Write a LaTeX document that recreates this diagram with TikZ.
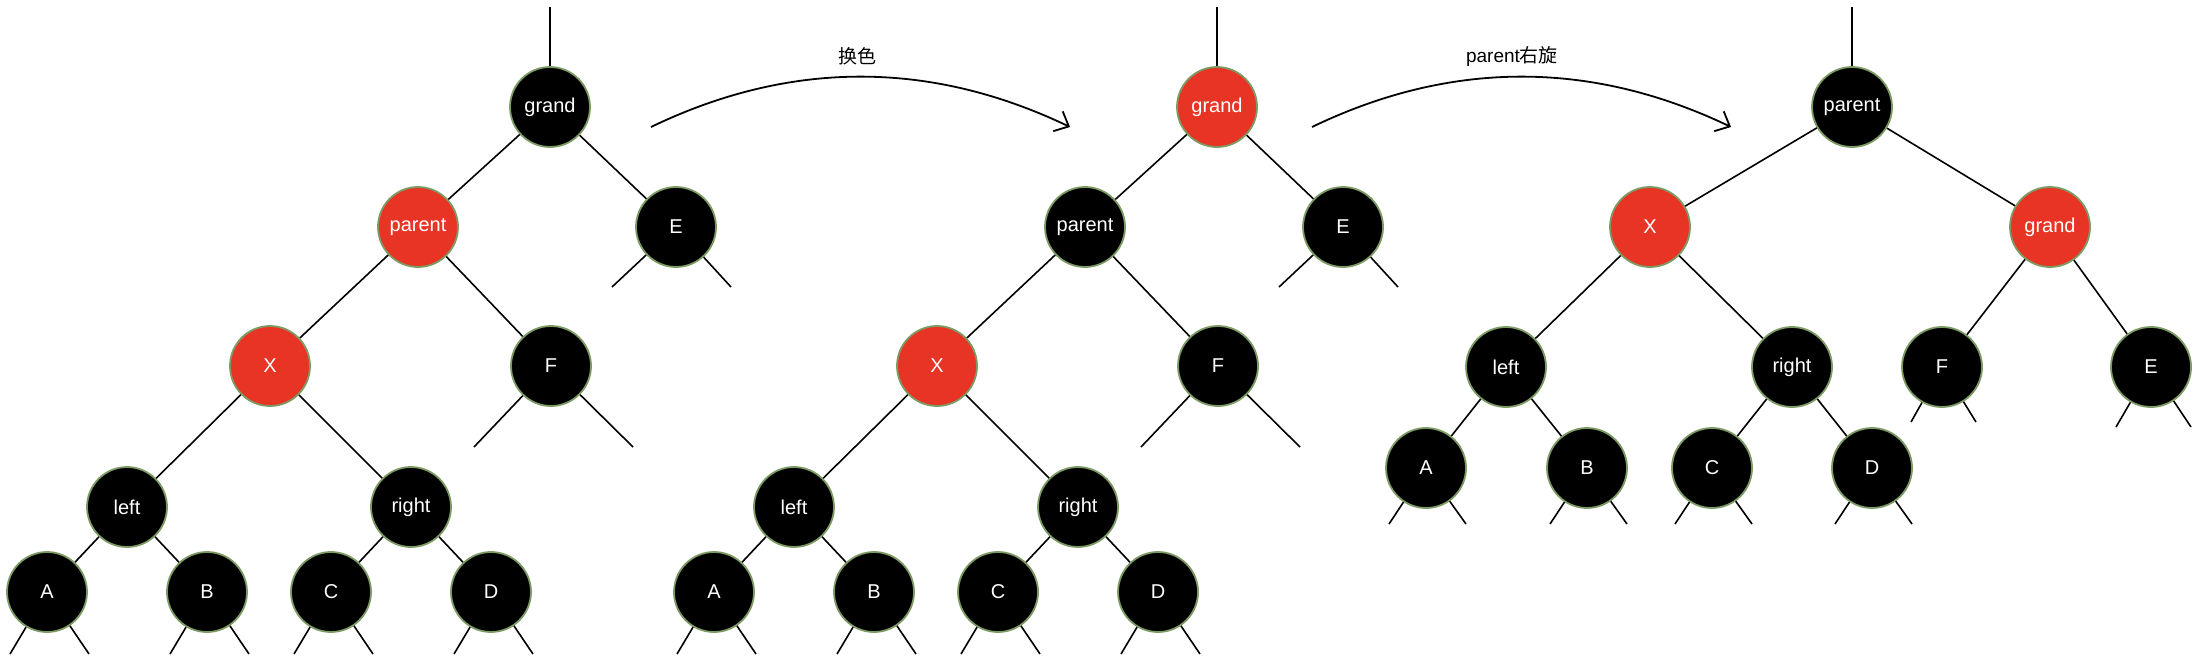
\documentclass[tikz,border=0pt]{standalone}
\usepackage{fontspec}
\setmainfont{Liberation Sans}
\newfontfamily\cjk{Noto Sans CJK SC}
\usetikzlibrary{arrows.meta}
\definecolor{rbred}{RGB}{232,52,36}
\definecolor{rbedge}{RGB}{125,155,100}
\begin{document}
\begin{tikzpicture}[x=1pt,y=-1pt,
  rbnode/.style={circle,minimum size=80pt,inner sep=0pt,draw=rbedge,line width=1.8pt,
    text=white,font=\fontsize{20}{24}\selectfont},
  blknode/.style={rbnode,fill=black},
  rednode/.style={rbnode,fill=rbred},
  treeline/.style={line width=1.6pt,draw=black},
  curvearrow/.style={line width=1.8pt,-{Straight Barb[length=12pt,width=22pt,line width=1.8pt]}},
  lbl/.style={font=\fontsize{19}{22}\selectfont,text=black}]
\useasboundingbox (0,0) rectangle (2200,656);

% ---------- Tree 1 ----------
\coordinate (top1) at (550,7);
\node[blknode] (grand1) at (550,107) {grand};
\node[rednode] (parent1) at (418,227) {parent};
\node[blknode] (E1) at (676,227) {E};
\node[rednode] (X1) at (270,366) {X};
\node[blknode] (F1) at (551,366) {F};
\node[blknode] (left1) at (127,507) {left};
\node[blknode] (right1) at (411,507) {right};
\node[blknode] (A1) at (47,592) {A};
\node[blknode] (B1) at (207,592) {B};
\node[blknode] (C1) at (331,592) {C};
\node[blknode] (D1) at (491,592) {D};
\draw[treeline] (top1) -- (grand1);
\draw[treeline] (grand1) -- (parent1);
\draw[treeline] (grand1) -- (E1);
\draw[treeline] (parent1) -- (X1);
\draw[treeline] (parent1) -- (F1);
\draw[treeline] (X1) -- (left1);
\draw[treeline] (X1) -- (right1);
\draw[treeline] (left1) -- (A1);
\draw[treeline] (left1) -- (B1);
\draw[treeline] (right1) -- (C1);
\draw[treeline] (right1) -- (D1);
\coordinate (E1l) at (612,287); \coordinate (E1r) at (731,287);
\coordinate (F1l) at (474,447); \coordinate (F1r) at (633,447);
\draw[treeline] (E1) -- (E1l); \draw[treeline] (E1) -- (E1r);
\draw[treeline] (F1) -- (F1l); \draw[treeline] (F1) -- (F1r);
\foreach \n/\x in {A1/47,B1/207,C1/331,D1/491}{
  \coordinate (\n l) at (\x-37,654); \coordinate (\n r) at (\x+42,654);
  \draw[treeline] (\n) -- (\n l); \draw[treeline] (\n) -- (\n r);}

% ---------- Tree 2 ----------
\coordinate (top2) at (1217,7);
\node[rednode] (grand2) at (1217,107) {grand};
\node[blknode] (parent2) at (1085,227) {parent};
\node[blknode] (E2) at (1343,227) {E};
\node[rednode] (X2) at (937,366) {X};
\node[blknode] (F2) at (1218,366) {F};
\node[blknode] (left2) at (794,507) {left};
\node[blknode] (right2) at (1078,507) {right};
\node[blknode] (A2) at (714,592) {A};
\node[blknode] (B2) at (874,592) {B};
\node[blknode] (C2) at (998,592) {C};
\node[blknode] (D2) at (1158,592) {D};
\draw[treeline] (top2) -- (grand2);
\draw[treeline] (grand2) -- (parent2);
\draw[treeline] (grand2) -- (E2);
\draw[treeline] (parent2) -- (X2);
\draw[treeline] (parent2) -- (F2);
\draw[treeline] (X2) -- (left2);
\draw[treeline] (X2) -- (right2);
\draw[treeline] (left2) -- (A2);
\draw[treeline] (left2) -- (B2);
\draw[treeline] (right2) -- (C2);
\draw[treeline] (right2) -- (D2);
\coordinate (E2l) at (1279,287); \coordinate (E2r) at (1398,287);
\coordinate (F2l) at (1141,447); \coordinate (F2r) at (1300,447);
\draw[treeline] (E2) -- (E2l); \draw[treeline] (E2) -- (E2r);
\draw[treeline] (F2) -- (F2l); \draw[treeline] (F2) -- (F2r);
\foreach \n/\x in {A2/714,B2/874,C2/998,D2/1158}{
  \coordinate (\n l) at (\x-37,654); \coordinate (\n r) at (\x+42,654);
  \draw[treeline] (\n) -- (\n l); \draw[treeline] (\n) -- (\n r);}

% ---------- Tree 3 ----------
\coordinate (top3) at (1852,7);
\node[blknode] (parent3) at (1852,107) {parent};
\node[rednode] (X3) at (1650,227) {X};
\node[rednode] (grand3) at (2050,227) {grand};
\node[blknode] (left3) at (1506,367) {left};
\node[blknode] (right3) at (1792,367) {right};
\node[blknode] (F3) at (1942,367) {F};
\node[blknode] (E3) at (2151,367) {E};
\node[blknode] (A3) at (1426,468) {A};
\node[blknode] (B3) at (1587,468) {B};
\node[blknode] (C3) at (1712,468) {C};
\node[blknode] (D3) at (1872,468) {D};
\draw[treeline] (top3) -- (parent3);
\draw[treeline] (parent3) -- (X3);
\draw[treeline] (parent3) -- (grand3);
\draw[treeline] (X3) -- (left3);
\draw[treeline] (X3) -- (right3);
\draw[treeline] (grand3) -- (F3);
\draw[treeline] (grand3) -- (E3);
\draw[treeline] (left3) -- (A3);
\draw[treeline] (left3) -- (B3);
\draw[treeline] (right3) -- (C3);
\draw[treeline] (right3) -- (D3);
\coordinate (F3l) at (1911,422); \coordinate (F3r) at (1976,422);
\coordinate (E3l) at (2116,427); \coordinate (E3r) at (2191,427);
\draw[treeline] (F3) -- (F3l); \draw[treeline] (F3) -- (F3r);
\draw[treeline] (E3) -- (E3l); \draw[treeline] (E3) -- (E3r);
\foreach \n/\x in {A3/1426,B3/1587,C3/1712,D3/1872}{
  \coordinate (\n l) at (\x-37,524); \coordinate (\n r) at (\x+40,524);
  \draw[treeline] (\n) -- (\n l); \draw[treeline] (\n) -- (\n r);}

% ---------- Arrows ----------
\coordinate (a1s) at (651,127); \coordinate (a1e) at (1070,127);
\coordinate (a2s) at (1312,127); \coordinate (a2e) at (1731,127);
\draw[curvearrow] (a1s) .. controls (790,60) and (930,60) .. (a1e);
\draw[curvearrow] (a2s) .. controls (1451,60) and (1591,60) .. (a2e);
\node[lbl] (lab1) at (857,56) {\cjk 换色};
\node[lbl] (lab2) at (1512,56) {parent{\cjk 右旋}};
\end{tikzpicture}
\end{document}
